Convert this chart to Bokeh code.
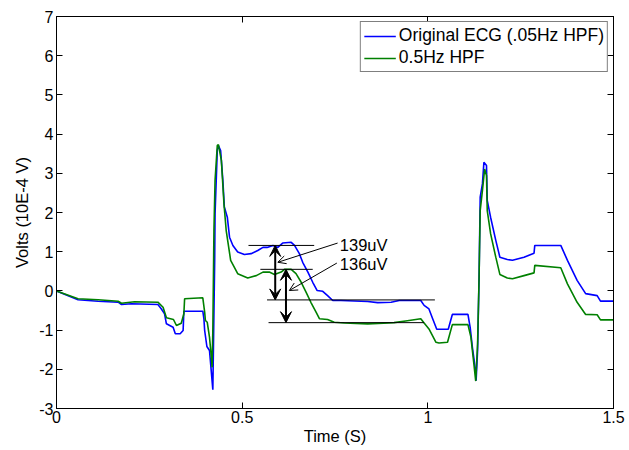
from bokeh.plotting import figure
from bokeh.models import (Legend, LegendItem, LinearAxis, FixedTicker, Arrow,
                          VeeHead, OpenHead, Label, Range1d)
from bokeh.embed import file_html
from bokeh.resources import INLINE

# ECG trace, original recording (0.05 Hz high-pass)
time_orig = [0.0, 0.058, 0.112, 0.166, 0.175, 0.202, 0.273, 0.282, 0.291, 0.296,
             0.314, 0.320, 0.333, 0.341, 0.343, 0.394, 0.397, 0.399, 0.405, 0.412,
             0.415, 0.421, 0.426, 0.427, 0.433, 0.436, 0.442, 0.448, 0.452, 0.460,
             0.466, 0.475, 0.488, 0.506, 0.524, 0.542, 0.556, 0.567, 0.583, 0.596,
             0.609, 0.632, 0.641, 0.654, 0.663, 0.677, 0.690, 0.702, 0.717, 0.730,
             0.744, 0.766, 0.838, 0.865, 0.901, 0.923, 0.981, 0.990, 1.003, 1.013,
             1.024, 1.055, 1.066, 1.108, 1.114, 1.120, 1.129, 1.130, 1.134, 1.138,
             1.141, 1.147, 1.151, 1.158, 1.160, 1.169, 1.183, 1.194, 1.214, 1.228,
             1.259, 1.286, 1.288, 1.358, 1.376, 1.402, 1.425, 1.456, 1.465, 1.500]
volts_orig = [0.0, -0.227, -0.263, -0.288, -0.347, -0.329, -0.347, -0.457, -0.584, -0.839,
              -0.926, -1.094, -1.094, -1.010, -0.518, -0.518, -0.712, -1.01, -1.418, -1.52,
              -1.85, -2.52, 0.78, 1.97, 3.58, 3.71, 3.58, 2.82, 2.14, 1.88,
              1.37, 1.16, 0.99, 0.93, 0.95, 1.03, 1.11, 1.11, 1.16, 1.11,
              1.22, 1.24, 1.16, 0.95, 0.73, 0.48, 0.22, 0.01, -0.01, -0.12,
              -0.245, -0.245, -0.27, -0.30, -0.29, -0.245, -0.245, -0.37, -0.46, -0.71,
              -0.98, -0.98, -0.60, -0.60, -0.93, -1.44, -2.07, -2.29, -1.52, 0.35,
              2.39, 2.73, 3.28, 3.20, 2.31, 1.88, 1.29, 0.86, 0.80, 0.78,
              0.86, 0.96, 1.16, 1.16, 0.78, 0.27, -0.07, -0.12, -0.26, -0.26]

# Same trace after a 0.5 Hz high-pass filter
time_hpf = [0.0, 0.058, 0.112, 0.166, 0.175, 0.210, 0.273, 0.287, 0.296, 0.315,
            0.323, 0.336, 0.343, 0.345, 0.394, 0.399, 0.401, 0.406, 0.412, 0.417,
            0.419, 0.421, 0.424, 0.427, 0.433, 0.436, 0.444, 0.451, 0.457, 0.469,
            0.488, 0.515, 0.538, 0.556, 0.573, 0.587, 0.605, 0.614, 0.632, 0.645,
            0.659, 0.672, 0.685, 0.699, 0.708, 0.730, 0.748, 0.775, 0.838, 0.909,
            0.945, 0.981, 0.990, 1.003, 1.022, 1.030, 1.053, 1.066, 1.108, 1.116,
            1.124, 1.129, 1.134, 1.138, 1.141, 1.147, 1.153, 1.158, 1.160, 1.169,
            1.183, 1.194, 1.214, 1.228, 1.259, 1.286, 1.288, 1.358, 1.376, 1.402,
            1.425, 1.456, 1.465, 1.500]
volts_hpf = [0.0, -0.202, -0.227, -0.263, -0.314, -0.278, -0.288, -0.416, -0.686, -0.730,
             -0.883, -0.824, -0.584, -0.202, -0.176, -0.543, -0.755, -0.80, -1.18, -1.69,
             -1.95, -1.01, 1.54, 2.82, 3.71, 3.73, 3.33, 2.22, 1.54, 0.78,
             0.44, 0.33, 0.39, 0.48, 0.48, 0.42, 0.48, 0.55, 0.55, 0.44,
             0.22, -0.03, -0.29, -0.54, -0.71, -0.73, -0.80, -0.82, -0.84, -0.81,
             -0.76, -0.71, -0.82, -0.97, -1.31, -1.33, -1.31, -0.86, -0.86, -1.18,
             -1.86, -2.30, -1.35, 0.35, 2.05, 2.56, 3.11, 2.94, 2.05, 1.46,
             0.86, 0.42, 0.33, 0.31, 0.39, 0.46, 0.65, 0.59, 0.18, -0.29,
             -0.60, -0.61, -0.74, -0.74]

# Measured T-wave amplitudes (10E-4 V units)
orig_base, orig_amp, orig_label = -0.23, 1.39, "139uV"
hpf_base, hpf_amp, hpf_label = -0.81, 1.36, "136uV"

series_names = ["Original ECG (.05Hz HPF)", "0.5Hz HPF"]
x_ticks = [0, 0.5, 1, 1.5]
x_tick_labels = ["0", "0.5", "1", "1.5"]
y_ticks = [-3, -2, -1, 0, 1, 2, 3, 4, 5, 6, 7]
y_tick_labels = [str(v) for v in y_ticks]

FONT = "Liberation Sans"
BLUE = "#0000ff"
GREEN = "#008000"

p = figure(width=629, height=450, output_backend="svg", toolbar_location=None,
           x_range=Range1d(0, 1.5), y_range=Range1d(-3, 7),
           min_border_left=56, min_border_right=16, min_border_top=16,
           min_border_bottom=42, background_fill_color="white",
           border_fill_color="white")
p.xgrid.visible = False
p.ygrid.visible = False
p.outline_line_color = "black"
p.outline_line_width = 1


def style_axis(ax, ticks, labels, show_labels=True):
    ax.ticker = FixedTicker(ticks=ticks)
    ax.major_label_overrides = {t: (l if show_labels else "") for t, l in zip(ticks, labels)}
    ax.minor_tick_line_color = None
    ax.major_tick_in = 6
    ax.major_tick_out = 0
    ax.major_tick_line_color = "black"
    ax.axis_line_color = "black"
    ax.major_label_text_font = FONT
    ax.major_label_text_font_size = "16px" if show_labels else "1px"
    ax.major_label_text_color = "black"
    ax.axis_label_text_font = FONT
    ax.axis_label_text_font_size = "16.5px"
    ax.axis_label_text_font_style = "normal"
    ax.axis_label_text_color = "black"


style_axis(p.xaxis[0], x_ticks, x_tick_labels)
style_axis(p.yaxis[0], y_ticks, y_tick_labels)
p.xaxis[0].axis_label = "Time (S)"
p.yaxis[0].axis_label = "Volts (10E-4 V)"
p.xaxis[0].major_label_standoff = 2
p.xaxis[0].axis_label_standoff = 1
p.yaxis[0].major_label_standoff = 3
p.yaxis[0].axis_label_standoff = 5

top_ax = LinearAxis()
style_axis(top_ax, x_ticks, x_tick_labels, show_labels=False)
top_ax.major_label_standoff = 0
p.add_layout(top_ax, "above")
right_ax = LinearAxis()
style_axis(right_ax, y_ticks, y_tick_labels, show_labels=False)
right_ax.major_label_standoff = 0
p.add_layout(right_ax, "right")

r_orig = p.line(time_orig, volts_orig, line_color=BLUE, line_width=1.6)
r_hpf = p.line(time_hpf, volts_hpf, line_color=GREEN, line_width=1.6)

# Reference levels for the amplitude measurement
p.segment(x0=[0.517, 0.567, 0.549, 0.571], x1=[0.694, 1.019, 0.690, 0.990],
          y0=[orig_base + orig_amp, orig_base, hpf_base + hpf_amp, hpf_base],
          y1=[orig_base + orig_amp, orig_base, hpf_base + hpf_amp, hpf_base],
          line_color="black", line_width=1)

# Double-headed amplitude arrows
for xa, base, amp in [(0.589, orig_base, orig_amp), (0.618, hpf_base, hpf_amp)]:
    p.add_layout(Arrow(x_start=xa, y_start=base, x_end=xa, y_end=base + amp,
                       line_color="black", line_width=2,
                       start=VeeHead(size=11, fill_color="black", line_color="black"),
                       end=VeeHead(size=11, fill_color="black", line_color="black")))

# Leader arrows from the labels
p.add_layout(Arrow(x_start=0.757, y_start=1.22, x_end=0.596, y_end=0.73,
                   line_color="black", line_width=1,
                   end=OpenHead(size=8, line_color="black", line_width=1)))
p.add_layout(Arrow(x_start=0.755, y_start=0.71, x_end=0.627, y_end=0.01,
                   line_color="black", line_width=1,
                   end=OpenHead(size=8, line_color="black", line_width=1)))

for ly, txt in [(1.18, orig_label), (0.69, hpf_label)]:
    p.add_layout(Label(x=0.763, y=ly, text=txt, text_font=FONT,
                       text_font_size="16.5px", text_color="black",
                       text_baseline="middle", text_align="left"))

legend = Legend(items=[LegendItem(label=series_names[0], renderers=[r_orig]),
                       LegendItem(label=series_names[1], renderers=[r_hpf])],
                location="top_right", margin=5, padding=3, spacing=1,
                glyph_width=32, glyph_height=18, label_height=18,
                label_standoff=3, label_text_font=FONT,
                label_text_font_size="17.5px", label_text_color="black",
                border_line_color="black", border_line_width=1,
                background_fill_color="white", background_fill_alpha=1.0)
p.add_layout(legend)

open("out.html", "w").write(file_html(p, INLINE))
